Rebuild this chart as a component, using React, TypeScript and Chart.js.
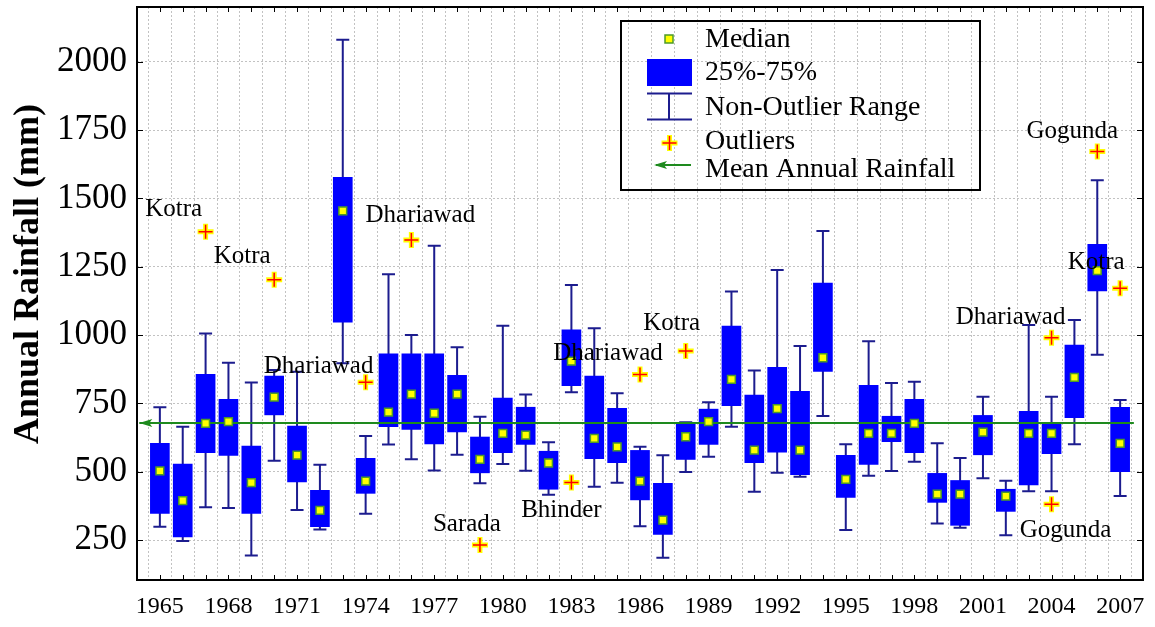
import { useEffect, useRef } from "react";
import { Chart, registerables } from "chart.js";

Chart.register(...registerables);

// Annual rainfall box plots per year (mm)
const years = [
  1965, 1966, 1967, 1968, 1969, 1970, 1971, 1972, 1973, 1974, 1975, 1976, 1977, 1978, 1979,
  1980, 1981, 1982, 1983, 1984, 1985, 1986, 1987, 1988, 1989, 1990, 1991, 1992, 1993, 1994,
  1995, 1996, 1997, 1998, 1999, 2000, 2001, 2002, 2003, 2004, 2005, 2006, 2007,
];
const upperWhisker = [
  736, 665, 1006, 899, 826, 872, 866, 526, 2080, 631, 1222, 1000, 1327, 955, 701,
  1034, 783, 608, 1183, 1025, 787, 591, 560, 681, 754, 1159, 870, 1238, 960, 1381,
  601, 977, 825, 829, 604, 550, 774, 467, 1037, 774, 1055, 1566, 762,
];
const quartile3 = [
  604, 528, 856, 765, 594, 850, 667, 432, 1577, 549, 931, 931, 931, 853, 627,
  769, 736, 575, 1019, 850, 732, 578, 458, 676, 729, 1033, 780, 882, 794, 1190,
  560, 816, 703, 765, 494, 468, 706, 436, 721, 675, 963, 1332, 736,
];
const medians = [
  503, 394, 677, 683, 460, 773, 561, 359, 1454, 466, 718, 784, 714, 784, 545,
  640, 634, 532, 905, 622, 591, 466, 323, 628, 683, 838, 579, 731, 579, 917,
  472, 640, 640, 677, 418, 418, 645, 411, 640, 640, 845, 1236, 604,
];
const quartile1 = [
  348, 262, 570, 560, 348, 708, 463, 299, 1047, 421, 665, 655, 602, 646, 496,
  570, 600, 436, 815, 548, 533, 397, 271, 545, 600, 742, 533, 572, 489, 867,
  406, 527, 610, 570, 388, 304, 562, 355, 452, 566, 698, 1161, 500,
];
const lowerWhisker = [
  299, 247, 370, 367, 194, 540, 360, 289, 897, 346, 600, 546, 505, 562, 458,
  528, 504, 416, 791, 445, 460, 301, 185, 499, 555, 665, 427, 496, 482, 704,
  287, 485, 503, 537, 311, 295, 476, 268, 429, 429, 601, 928, 411,
];

// Outlying stations
const outlierYears = [1967, 1970, 1974, 1976, 1979, 1983, 1986, 1988, 2004, 2004, 2006, 2007];
const outlierValues = [1378, 1202, 827, 1348, 232, 461, 856, 942, 990, 381, 1671, 1171];
const outlierStations = [
  "Kotra", "Kotra", "Dhariawad", "Dhariawad", "Sarada", "Bhinder",
  "Dhariawad", "Kotra", "Dhariawad", "Gogunda", "Gogunda", "Kotra",
];

const meanAnnualRainfall = 678;
const meanLineYears = [1964.1, 2007.6];

const xLabelYears = [1965, 1968, 1971, 1974, 1977, 1980, 1983, 1986, 1989, 1992, 1995, 1998, 2001, 2004, 2007];
const yTickValues = [250, 500, 750, 1000, 1250, 1500, 1750, 2000];

// ---- styling ----
const FONT = '"Liberation Serif", "Times New Roman", Times, serif';
const BOX_BLUE = "#0000ff";
const WHISKER = "#1c1c8e";
const MEAN_GREEN = "#1e8a1e";
const MEDIAN_FILL = "#ffff00";
const MEDIAN_EDGE = "#4c9a2a";
const GRID = "#c2c2c2";

// label centre offsets (px) from each outlier marker
const LABEL_OFFSETS: [number, number][] = [
  [-32, -22], [-32, -23], [-47, -16], [9, -24], [-13, -21], [-10, 28],
  [-32, -21], [-14, -27], [-41, -20], [14, 26], [-25, -20], [-24, -26],
];

function drawPlus(ctx: CanvasRenderingContext2D, x: number, y: number) {
  ctx.save();
  ctx.lineCap = "butt";
  ctx.strokeStyle = MEDIAN_FILL;
  ctx.lineWidth = 5;
  ctx.beginPath();
  ctx.moveTo(x - 8, y); ctx.lineTo(x + 8, y);
  ctx.moveTo(x, y - 8); ctx.lineTo(x, y + 8);
  ctx.stroke();
  ctx.strokeStyle = "#ff0000";
  ctx.lineWidth = 1.5;
  ctx.beginPath();
  ctx.moveTo(x - 7, y); ctx.lineTo(x + 7, y);
  ctx.moveTo(x, y - 7); ctx.lineTo(x, y + 7);
  ctx.stroke();
  ctx.restore();
}

function drawArrowHead(ctx: CanvasRenderingContext2D, x: number, y: number) {
  ctx.save();
  ctx.fillStyle = MEAN_GREEN;
  ctx.beginPath();
  ctx.moveTo(x, y);
  ctx.lineTo(x + 13, y - 4);
  ctx.lineTo(x + 10, y);
  ctx.lineTo(x + 13, y + 4);
  ctx.closePath();
  ctx.fill();
  ctx.restore();
}

const boxPlotExtras = {
  id: "boxPlotExtras",
  beforeDatasetsDraw(chart: any) {
    const { ctx, chartArea, scales } = chart;
    const x = scales.x;
    const y = scales.y;
    ctx.save();
    ctx.beginPath();
    ctx.rect(chartArea.left, chartArea.top, chartArea.right - chartArea.left, chartArea.bottom - chartArea.top);
    ctx.clip();
    ctx.strokeStyle = WHISKER;
    ctx.lineWidth = 2;
    years.forEach((yr, i) => {
      const px = x.getPixelForValue(yr);
      const top = y.getPixelForValue(upperWhisker[i]);
      const bot = y.getPixelForValue(lowerWhisker[i]);
      ctx.beginPath();
      ctx.moveTo(px, top); ctx.lineTo(px, bot);
      ctx.moveTo(px - 6.5, top); ctx.lineTo(px + 6.5, top);
      ctx.moveTo(px - 6.5, bot); ctx.lineTo(px + 6.5, bot);
      ctx.stroke();
    });
    ctx.restore();
  },
  afterDatasetsDraw(chart: any) {
    const { ctx, scales } = chart;
    const x = scales.x;
    const y = scales.y;
    drawArrowHead(ctx, x.getPixelForValue(meanLineYears[0]), y.getPixelForValue(meanAnnualRainfall));
    ctx.save();
    ctx.font = `25px ${FONT}`;
    ctx.fillStyle = "#000";
    ctx.textAlign = "center";
    ctx.textBaseline = "middle";
    outlierYears.forEach((yr, i) => {
      const px = x.getPixelForValue(yr);
      const py = y.getPixelForValue(outlierValues[i]);
      const [dx, dy] = LABEL_OFFSETS[i];
      ctx.fillText(outlierStations[i], px + dx, py + dy);
    });
    ctx.restore();
    outlierYears.forEach((yr, i) => {
      drawPlus(ctx, x.getPixelForValue(yr), y.getPixelForValue(outlierValues[i]));
    });
  },
  afterDraw(chart: any) {
    const { ctx, chartArea, scales } = chart;
    const x = scales.x;
    const y = scales.y;
    const { left, right, top, bottom } = chartArea;
    ctx.save();
    // frame
    ctx.strokeStyle = "#000";
    ctx.lineWidth = 2;
    ctx.strokeRect(left, top, right - left, bottom - top);
    // inward ticks
    ctx.lineWidth = 1;
    ctx.beginPath();
    years.forEach((yr) => {
      const px = Math.round(x.getPixelForValue(yr)) + 0.5;
      ctx.moveTo(px, bottom); ctx.lineTo(px, bottom - 5);
      ctx.moveTo(px, top); ctx.lineTo(px, top + 5);
    });
    yTickValues.forEach((v) => {
      const py = Math.round(y.getPixelForValue(v)) + 0.5;
      ctx.moveTo(left, py); ctx.lineTo(left + 6, py);
      ctx.moveTo(right, py); ctx.lineTo(right - 6, py);
    });
    ctx.stroke();

    // axis title
    ctx.save();
    ctx.translate(29, 274);
    ctx.rotate(-Math.PI / 2);
    ctx.font = `bold 36px ${FONT}`;
    ctx.fillStyle = "#000";
    ctx.textAlign = "center";
    ctx.textBaseline = "middle";
    ctx.fillText("Annual Rainfall (mm)", 0, 0);
    ctx.restore();

    // legend
    const lx = 621, ly = 21, lw = 359, lh = 169;
    ctx.strokeStyle = "#000";
    ctx.lineWidth = 2;
    ctx.strokeRect(lx, ly, lw, lh);
    const symX = 669;
    // median
    ctx.fillStyle = MEDIAN_FILL;
    ctx.strokeStyle = MEDIAN_EDGE;
    ctx.lineWidth = 1.5;
    ctx.fillRect(symX - 4, 35, 8, 8);
    ctx.strokeRect(symX - 4, 35, 8, 8);
    // quartile box
    ctx.fillStyle = BOX_BLUE;
    ctx.fillRect(647, 59, 45, 27);
    // non-outlier range
    ctx.strokeStyle = WHISKER;
    ctx.lineWidth = 2;
    ctx.beginPath();
    ctx.moveTo(647, 93.5); ctx.lineTo(692, 93.5);
    ctx.moveTo(647, 119.5); ctx.lineTo(692, 119.5);
    ctx.moveTo(669, 93.5); ctx.lineTo(669, 119.5);
    ctx.stroke();
    // outliers
    drawPlus(ctx, 669.5, 143);
    // mean
    ctx.strokeStyle = MEAN_GREEN;
    ctx.lineWidth = 2;
    ctx.beginPath();
    ctx.moveTo(656, 165); ctx.lineTo(691, 165);
    ctx.stroke();
    drawArrowHead(ctx, 654, 165);

    ctx.font = `28px ${FONT}`;
    ctx.fillStyle = "#000";
    ctx.textAlign = "left";
    ctx.textBaseline = "middle";
    ctx.fillText("Median", 705, 39.5);
    ctx.fillText("25%-75%", 705, 73);
    ctx.fillText("Non-Outlier Range", 705, 107.5);
    ctx.fillText("Outliers", 705, 142);
    ctx.fillText("Mean Annual Rainfall", 705, 169.5);
    ctx.restore();
  },
};

export default function App() {
  const canvasRef = useRef<HTMLCanvasElement | null>(null);

  useEffect(() => {
    const canvas = canvasRef.current;
    if (!canvas) return;

    const chart = new Chart(canvas, {
      type: "bar",
      data: {
        datasets: [
          {
            type: "bar",
            label: "25%-75%",
            data: years.map((yr, i) => ({ x: yr, y: [quartile1[i], quartile3[i]] })) as any,
            backgroundColor: BOX_BLUE,
            borderWidth: 0,
            barThickness: 19,
            grouped: false,
            order: 4,
          } as any,
          {
            type: "line",
            label: "Mean Annual Rainfall",
            data: meanLineYears.map((yr) => ({ x: yr, y: meanAnnualRainfall })),
            borderColor: MEAN_GREEN,
            borderWidth: 2,
            pointRadius: 0,
            fill: false,
            order: 3,
          },
          {
            type: "scatter",
            label: "Median",
            data: years.map((yr, i) => ({ x: yr, y: medians[i] })),
            pointStyle: "rect",
            pointRadius: 5.5,
            backgroundColor: MEDIAN_FILL,
            borderColor: MEDIAN_EDGE,
            borderWidth: 1.5,
            order: 2,
          },
        ],
      },
      options: {
        animation: false,
        responsive: false,
        events: [],
        layout: { padding: { left: 0, right: 12, top: 7, bottom: 0 } },
        plugins: {
          legend: { display: false },
          tooltip: { enabled: false },
          title: { display: false },
        },
        scales: {
          x: {
            type: "linear",
            min: 1964,
            max: 2008,
            offset: false,
            grid: { color: GRID, lineWidth: 1, drawTicks: false },
            border: { display: false, dash: [2, 2] },
            ticks: {
              stepSize: 1,
              autoSkip: false,
              maxTicksLimit: 100,
              includeBounds: false,
              maxRotation: 0,
              padding: 12,
              color: "#000",
              font: { family: FONT, size: 24 },
              callback: (v: any) => (xLabelYears.includes(Number(v)) ? String(v) : ""),
            },
            afterFit: (scale: any) => {
              scale.height = 47;
              scale.paddingLeft = 0;
              scale.paddingRight = 0;
            },
          },
          y: {
            type: "linear",
            min: 104,
            max: 2200,
            grid: { color: GRID, lineWidth: 1, drawTicks: false },
            border: { display: false, dash: [2, 2] },
            ticks: {
              stepSize: 250,
              includeBounds: false,
              padding: 10,
              color: "#000",
              font: { family: FONT, size: 35 },
              callback: (v: any) => String(v),
            },
            afterFit: (scale: any) => {
              scale.width = 137;
              scale.paddingTop = 0;
              scale.paddingBottom = 0;
            },
          },
        },
      },
      plugins: [boxPlotExtras],
    });

    return () => chart.destroy();
  }, []);

  return (
    <div style={{ position: "absolute", left: 0, top: 0, width: 1155, height: 627, background: "#fff" }}>
      <canvas ref={canvasRef} width={1155} height={627} style={{ display: "block" }} />
    </div>
  );
}
